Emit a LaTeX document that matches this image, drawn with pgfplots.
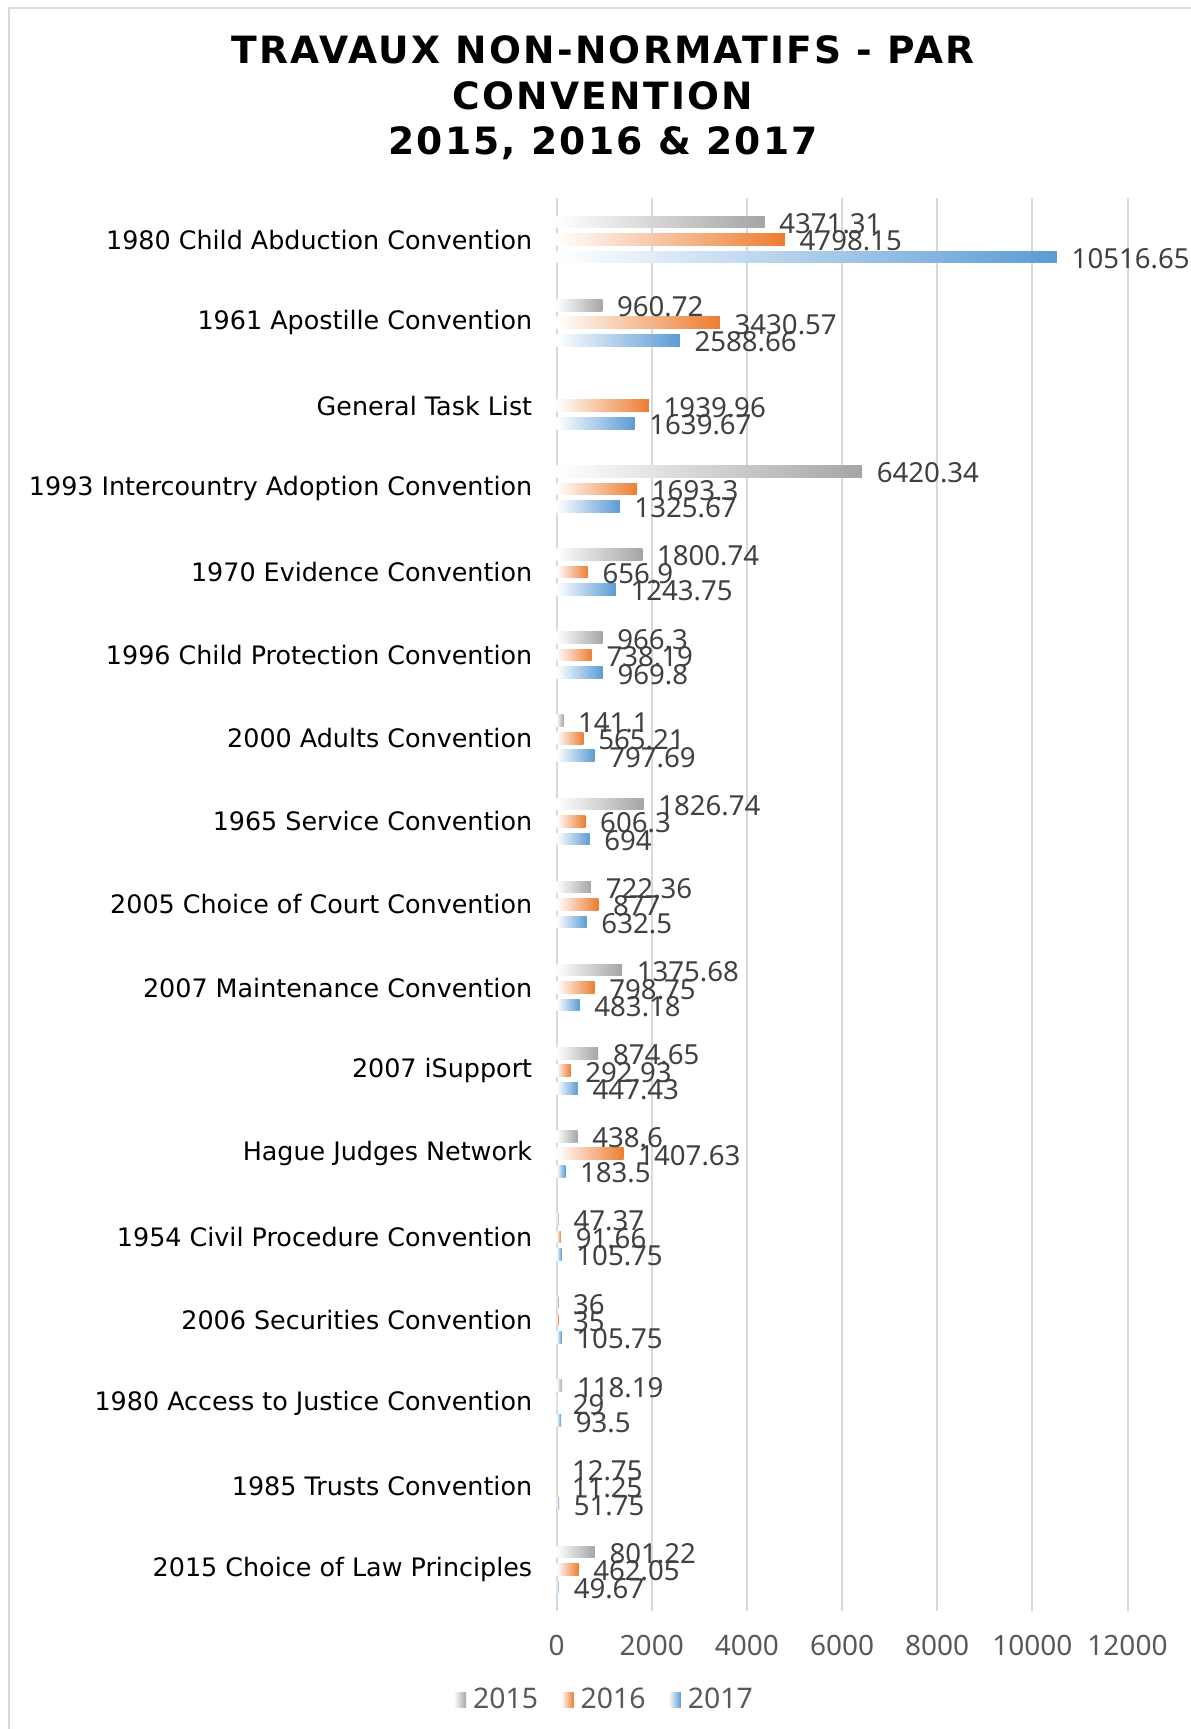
\documentclass[border=0pt]{standalone}
\usepackage{fontspec}
\setmainfont{Noto Sans}
\newfontfamily\catfont{DejaVu Sans}
\newfontfamily\titlefont[LetterSpace=6.0]{DejaVu Sans}
\usepackage{pgfplots}
\usepackage{pgfplotstable}
\pgfplotsset{compat=1.18}

\definecolor{c15}{HTML}{A5A5A5}
\definecolor{c16}{HTML}{ED7D31}
\definecolor{c17}{HTML}{5B9BD5}
\definecolor{lbl}{HTML}{404040}
\definecolor{tck}{HTML}{595959}
\definecolor{grd}{HTML}{D9D9D9}

% rows top to bottom; pos = place on the y axis
\pgfplotstableread{
pos  v15      v16      v17
16   4371.31  4798.15  10516.65
15   960.72   3430.57  2588.66
14   nan      1939.96  1639.67
13   6420.34  1693.3   1325.67
12   1800.74  656.9    1243.75
11   966.3    738.19   969.8
10   141.1    565.21   797.69
9    1826.74  606.3    694
8    722.36   877      632.5
7    1375.68  798.75   483.18
6    874.65   292.93   447.43
5    438.6    1407.63  183.5
4    47.37    91.66    105.75
3    36       35       105.75
2    118.19   29       93.5
1    12.75    11.25    51.75
0    801.22   462.05   49.67
}\datatable

\begin{document}
\begin{tikzpicture}
  % outer frame (top and left only show)
  \draw[grd, line width=1pt] (4.5pt,-5pt) -- (4.5pt,860.5pt) -- (600pt,860.5pt);

  \node[align=center, font=\titlefont\bfseries\fontsize{18.8}{22.75}\selectfont]
    at (301.5pt,815.4pt) {TRAVAUX NON-NORMATIFS - PAR\\CONVENTION\\2015, 2016 \& 2017};

  \begin{axis}[
    at={(278.3pt,59pt)}, anchor=south west,
    scale only axis,
    width=285.45pt, height=706.5pt,
    xbar,
    bar width=5.85pt,
    xmin=0, xmax=12000,
    ymin=-0.5, ymax=16.5,
    xtick={0,2000,...,12000},
    scaled x ticks=false,
    /pgf/number format/1000 sep={},
    /pgf/number format/assume math mode=true,
    ytick={0,...,16},
    yticklabels={2015 Choice of Law Principles, 1985 Trusts Convention,
      1980 Access to Justice Convention, 2006 Securities Convention,
      1954 Civil Procedure Convention, Hague Judges Network, 2007 iSupport,
      2007 Maintenance Convention, 2005 Choice of Court Convention,
      1965 Service Convention, 2000 Adults Convention,
      1996 Child Protection Convention, 1970 Evidence Convention,
      1993 Intercountry Adoption Convention, General Task List,
      1961 Apostille Convention, 1980 Child Abduction Convention},
    yticklabel style={font=\catfont\fontsize{12.7}{14}\selectfont, inner sep=0pt,
      anchor=east, xshift=-12pt},
    xticklabel style={font=\fontsize{14}{16}\selectfont, text=tck, inner sep=0pt,
      anchor=north, yshift=-12pt},
    axis line style={draw=none},
    major tick length=0pt,
    xmajorgrids,
    grid style={grd, line width=1pt},
    clip=false,
    point meta=explicit symbolic,
    nodes near coords,
    every node near coord/.append style={anchor=west, inner sep=0pt, xshift=7.2pt,
      yshift=-0.8pt, font=\fontsize{13.8}{16}\selectfont, text=lbl},
    legend columns=3,
    legend style={draw=none, fill=none, at={(rel axis cs:0.088,-0.063)}, anchor=center,
      font=\fontsize{14.2}{16}\selectfont, text=tck,
      /tikz/every even column/.append style={column sep=8pt},
      nodes={inner sep=3.5pt}},
    legend image code/.code={\path[#1, draw=none] (0pt,-3.6pt) rectangle (6.2pt,3.6pt);},
    s15/.style={draw=none, left color=white, right color=c15, bar shift=8.75pt},
    s16/.style={draw=none, left color=white, right color=c16, bar shift=0pt},
    s17/.style={draw=none, left color=white, right color=c17, bar shift=-8.75pt},
    only/.style={restrict y to domain=#1:#1},
  ]

  % one plot for each bar, so that each bar gets its own gradient
  \addplot[s15, only=16] table[x=v15, y=pos, meta=v15] {\datatable};
  \addlegendentry{2015}
  \addplot[s16, only=16] table[x=v16, y=pos, meta=v16] {\datatable};
  \addlegendentry{2016}
  \addplot[s17, only=16] table[x=v17, y=pos, meta=v17] {\datatable};
  \addlegendentry{2017}

  \pgfplotsinvokeforeach{0,1,2,3,4,5,6,7,8,9,10,11,12,13,15}{
    \addplot[s15, forget plot, only=#1] table[x=v15, y=pos, meta=v15] {\datatable};
  }
  \pgfplotsinvokeforeach{0,...,15}{
    \addplot[s16, forget plot, only=#1] table[x=v16, y=pos, meta=v16] {\datatable};
    \addplot[s17, forget plot, only=#1] table[x=v17, y=pos, meta=v17] {\datatable};
  }
  \end{axis}

  \pgfresetboundingbox
  \useasboundingbox (0,0) rectangle (595pt,864.5pt);
\end{tikzpicture}
\end{document}
